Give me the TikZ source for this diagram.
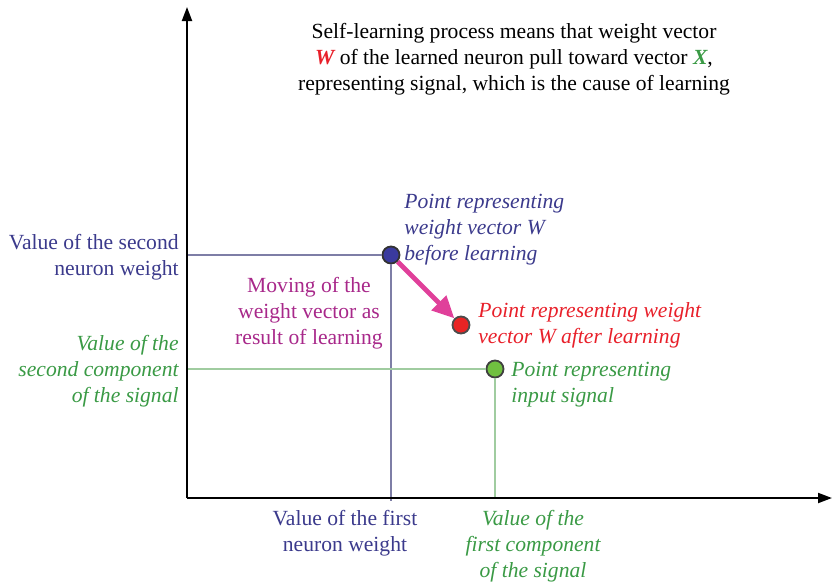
\documentclass[tikz,border=0pt]{standalone}
\usepackage{fontspec}
\setmainfont{Liberation Serif}
\usetikzlibrary{arrows.meta}
\definecolor{tblue}{HTML}{3B3A8C}
\definecolor{tgreen}{HTML}{3A9A45}
\definecolor{tred}{HTML}{E8202A}
\definecolor{tmag}{HTML}{A8288A}
\definecolor{amag}{HTML}{E0409A}
\definecolor{lblue}{HTML}{7E7EA6}
\definecolor{lgreen}{HTML}{A0CCA0}
\definecolor{pblue}{HTML}{3A3A9E}
\definecolor{pred}{HTML}{E82424}
\definecolor{pgreen}{HTML}{70C040}
\tikzset{
  txt/.style={inner sep=0pt, font=\fontsize{10.8}{13}\selectfont},
  axis/.style={line width=1pt, -{Triangle[length=7pt,width=5pt]}},
  dot/.style={circle, minimum size=8.5pt, inner sep=0pt, line width=0.9pt},
}
\begin{document}
\begin{tikzpicture}[x=0.5pt,y=-0.5pt]
\useasboundingbox (0,0) rectangle (832,586);
\coordinate (O) at (187,498);
\coordinate (Ytop) at (187,7);
\coordinate (Xend) at (832,498);
% points
\node[dot, draw=black!80, fill=pblue] (B) at (391,255) {};
\node[dot, draw=black!70, fill=pred] (R) at (461,325) {};
\node[dot, draw=black!75, fill=pgreen] (G) at (495,369) {};
\coordinate (Bleft) at (187,255);
\coordinate (Bdown) at (391,501);
\coordinate (Gleft) at (187,369);
\coordinate (Gdown) at (495,498);
% guide lines
\draw[lblue, line width=0.8pt] (Bleft) -- (B.west);
\draw[lblue, line width=0.8pt] (B.south) -- (Bdown);
\draw[lgreen, line width=0.8pt] (Gleft) -- (G.west);
\draw[lgreen, line width=0.8pt] (G.south) -- (Gdown);
% axes
\draw[axis] (O) -- (Ytop);
\draw[axis] (O) -- (Xend);
% moving arrow
\draw[amag, line width=2.4pt, -{Triangle[length=11pt,width=10pt]}] (B.south east) -- (R.north west);
% texts
\node[txt, align=center] (title) at (514,59) {Self-learning process means that weight vector\\
{\color{tred}\bfseries\itshape W} of the learned neuron pull toward vector {\color{tgreen}\bfseries\itshape X},\\
representing signal, which is the cause of learning};
\node[txt, align=right, anchor=east, text=tblue] (ly) at (179,257) {Value of the second\\neuron weight};
\node[txt, align=right, anchor=east, text=tgreen, font=\fontsize{10.8}{13}\selectfont\itshape] (lg) at (179,371) {Value of the\\second component\\of the signal};
\node[txt, align=left, anchor=west, text=tblue, font=\fontsize{10.8}{13}\selectfont\itshape] (bl) at (404,230) {Point representing\\weight vector W\\before learning};
\node[txt, align=center, text=tmag] (mv) at (309,313) {Moving of the\\weight vector as\\result of learning};
\node[txt, align=left, anchor=west, text=tred, font=\fontsize{10.8}{13}\selectfont\itshape] (rl) at (478,325) {Point representing weight\\vector W after learning};
\node[txt, align=left, anchor=west, text=tgreen, font=\fontsize{10.8}{13}\selectfont\itshape] (gl) at (511,385) {Point representing\\input signal};
\node[txt, align=center, text=tblue] (bx) at (345,533) {Value of the first\\neuron weight};
\node[txt, align=center, text=tgreen, font=\fontsize{10.8}{13}\selectfont\itshape] (gx) at (533,546) {Value of the\\first component\\of the signal};
\end{tikzpicture}
\end{document}
